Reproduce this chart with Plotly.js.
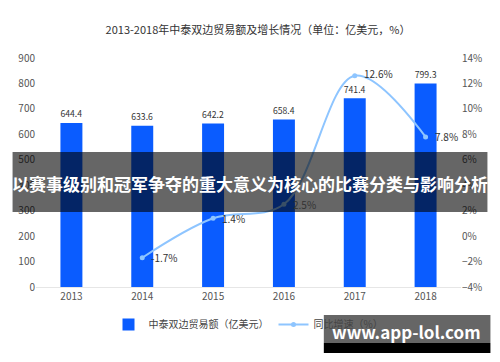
<!DOCTYPE html>
<html><head><meta charset="utf-8">
<script src="https://cdn.plot.ly/plotly-3.0.1.min.js"></script>
<style>html,body{margin:0;padding:0;background:#fff}#chart{width:500px;height:362px}</style>
</head><body><div id="chart"></div>
<script>
const years = ['2013','2014','2015','2016','2017','2018'];
const tradeValues = [644.4, 633.6, 642.2, 658.4, 741.4, 799.3];
const growthRates = [null, -1.7, 1.4, 2.5, 12.6, 7.8];
const barName = '中泰双边贸易额（亿美元）';
const lineName = '同比增速（%）';
const chartTitle = '2013-2018年中泰双边贸易额及增长情况（单位：亿美元，%）';
const bannerText = '以赛事级别和冠军争夺的重大意义为核心的比赛分类与影响分析';
const watermarkText = 'www.app-lol.com';

const FONT = '"Noto Sans CJK SC", "Noto Sans", sans-serif';
const W = 426, H = 229, L = 35.5, T = 58;
const px = x => (x - L) / W;
const py = y => (T + H - y) / H;

const traces = [
  {type:'bar', x: years, y: tradeValues, name: barName,
   marker:{color:'#0a5cff'}, width:0.31,
   text: tradeValues.map(v=>v.toFixed(1)), textposition:'outside',
   textfont:{size:10, color:'#333'}, cliponaxis:false, hoverinfo:'none'},
  {type:'scatter', mode:'lines+markers', x: years, y: growthRates, yaxis:'y2', name: lineName,
   line:{color:'#8ec5ff', width:2, shape:'spline'}, marker:{color:'#8ec5ff', size:5},
   cliponaxis:false, connectgaps:false, hoverinfo:'none'}
];

const lineLabels = [];
years.forEach((yr, i) => {
  const v = growthRates[i];
  if (v === null) return;
  lineLabels.push({text: v.toFixed(1)+'%', xref:'x', yref:'y2', x: i, y: v,
    xanchor:'left', yanchor:'middle', xshift:7, yshift: (v > 12 ? 2 : 0), showarrow:false,
    font:{size:10, color:'#333', family:FONT}});
});

const layout = {
  width:500, height:362,
  margin:{l:L, r:500-L-W, t:T, b:362-T-H},
  paper_bgcolor:'#fff', plot_bgcolor:'#fff',
  font:{family:FONT, color:'#555', size:10},
  title:{text: chartTitle, x:0.516, xanchor:'center', y:0.917, yanchor:'middle', font:{size:11, color:'#333', family:FONT}},
  showlegend:true,
  legend:{orientation:'h', x:0.5, xanchor:'center', y:-0.1, yanchor:'top', bgcolor:'rgba(0,0,0,0)', font:{size:10, color:'#444'}, itemwidth:30, traceorder:'normal'},
  xaxis:{type:'category', range:[-0.5,5.5], showgrid:false, zeroline:false, showline:true, linecolor:'#e6e6e6', ticks:'', tickfont:{size:10, color:'#555'}},
  yaxis:{range:[0,900], dtick:100, showgrid:false, zeroline:false, showline:false, ticks:'', tickfont:{size:10, color:'#555'}},
  yaxis2:{overlaying:'y', side:'right', range:[-4,14], dtick:2, ticksuffix:'%', showgrid:false, zeroline:false, showline:false, ticks:'', tickfont:{size:10, color:'#555'}},
  shapes:[
    {type:'rect', xref:'paper', yref:'paper', x0:px(12), x1:px(488), y0:py(152), y1:py(212), fillcolor:'rgba(0,0,0,0.6)', line:{width:0}, layer:'above'},
    {type:'rect', xref:'paper', yref:'paper', x0:px(324), x1:px(491), y0:py(315), y1:py(343), fillcolor:'rgba(0,0,0,0.6)', line:{width:0}, layer:'above'},
    {type:'rect', xref:'paper', yref:'paper', x0:px(324), x1:px(491), y0:py(343), y1:py(353), fillcolor:'#000', line:{width:0}, layer:'above'}
  ],
  annotations: lineLabels.concat([
    {text:'<b>'+bannerText+'</b>', xref:'paper', yref:'paper', x:px(250), y:py(183), xanchor:'center', yanchor:'middle', showarrow:false, font:{size:17, color:'#fff', family:FONT}},
    {text:'<b>'+watermarkText+'</b>', xref:'paper', yref:'paper', x:px(407), y:py(331), xanchor:'center', yanchor:'middle', showarrow:false, font:{size:17, color:'#fff', family:FONT}}
  ])
};
Plotly.newPlot('chart', traces, layout, {displayModeBar:false, staticPlot:true});
</script></body></html>
